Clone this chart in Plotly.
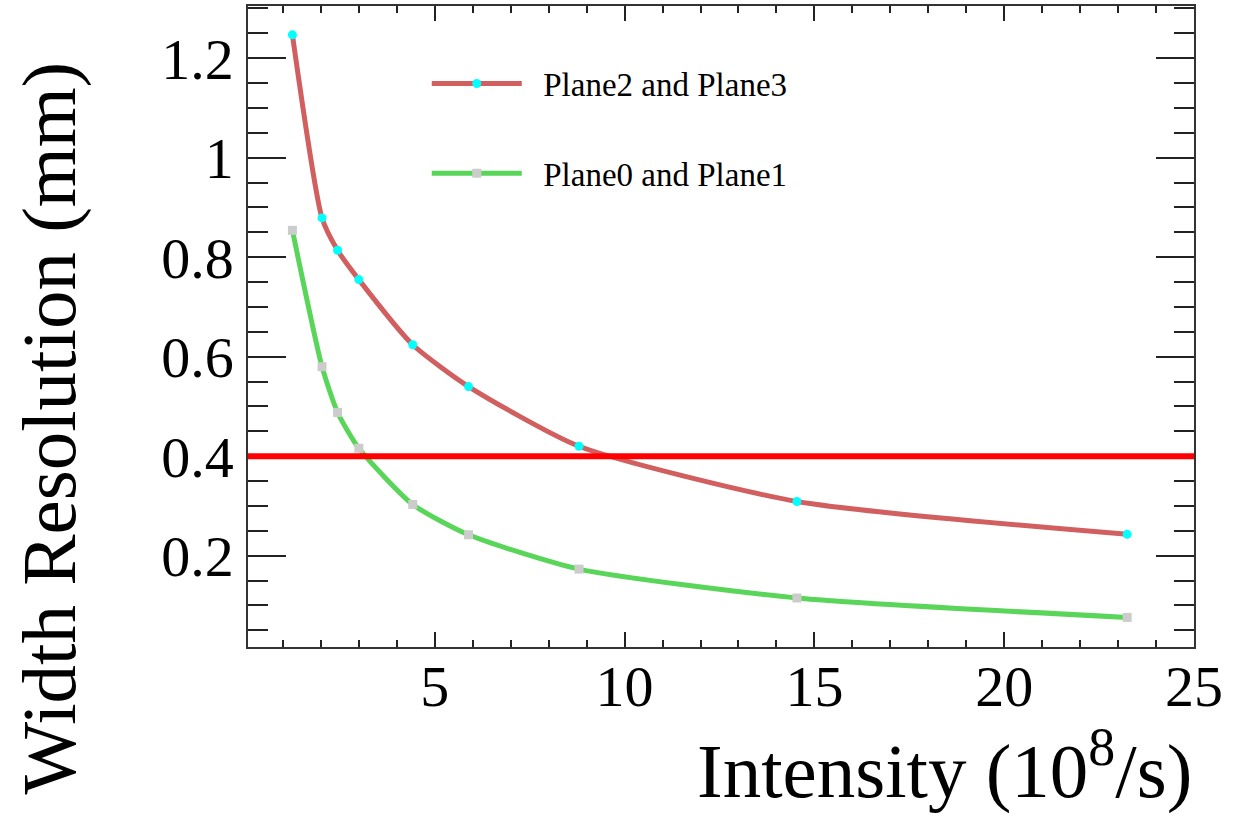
import plotly.graph_objects as go

# ---- data ----
intensity = [1.25, 2.03, 2.44, 3.0, 4.42, 5.89, 8.8, 14.54, 23.24]
res_plane23 = [1.247, 0.879, 0.814, 0.755, 0.624, 0.540, 0.420, 0.309, 0.243]
res_plane01 = [0.854, 0.580, 0.488, 0.416, 0.303, 0.242, 0.173, 0.115, 0.076]
threshold = 0.4
x_ticks = [5, 10, 15, 20, 25]
y_ticks = [0.2, 0.4, 0.6, 0.8, 1.0, 1.2]
y_ticktext = ["0.2", "0.4", "0.6", "0.8", "1", "1.2"]
names = ["Plane2 and Plane3", "Plane0 and Plane1"]

FONT = "Liberation Serif"
PAD = "\u00a0\u00a0"

fig = go.Figure()
fig.add_trace(go.Scatter(
    x=intensity, y=res_plane23, name=PAD + names[0],
    mode="lines+markers",
    line=dict(color="#d15f5f", width=5, shape="spline", smoothing=0.6),
    marker=dict(symbol="circle", color="#00ffff", size=9, line=dict(width=0)),
    legend="legend",
))
fig.add_trace(go.Scatter(
    x=intensity, y=res_plane01, name=PAD + names[1],
    mode="lines+markers",
    line=dict(color="#59d659", width=5, shape="spline", smoothing=0.6),
    marker=dict(symbol="square", color="#cccccc", size=9, line=dict(width=0)),
    legend="legend2",
))

fig.add_shape(type="line", xref="paper", x0=0, x1=1, yref="y", y0=threshold, y1=threshold,
              line=dict(color="#ff0000", width=6), layer="above")

L, R, T, B = 248.3, 40, 4.3, 175.3
W, H = 1234, 822
pw = W - L - R
ph = H - T - B

def px_x(p):
    return (p - L) / pw

def px_y(p):
    return (H - B - p) / ph

axis_common = dict(
    showgrid=False, zeroline=False,
    showline=True, linecolor="#333333", linewidth=1.5,
    mirror="allticks", ticks="inside", tickcolor="#222222", tickwidth=1.5,
    tickfont=dict(family=FONT, size=58, color="black"),
)

fig.update_layout(
    width=W, height=H,
    margin=dict(l=L, r=R, t=T, b=B),
    paper_bgcolor="white", plot_bgcolor="white",
    xaxis=dict(range=[0.08, 25.0], tickvals=x_ticks, ticklen=15,
               minor=dict(dtick=1, ticklen=7, ticks="inside", tickcolor="#222222", tickwidth=1.5),
               ticklabelstandoff=-12, **axis_common),
    yaxis=dict(range=[0.0165, 1.305], tickvals=y_ticks, ticktext=y_ticktext, ticklen=38,
               minor=dict(dtick=0.05, tick0=0, ticklen=20, ticks="inside", tickcolor="#222222", tickwidth=1.5),
               ticklabelstandoff=1, **axis_common),
    showlegend=True,
    legend=dict(x=px_x(427), y=px_y(54), xanchor="left", yanchor="top",
                bgcolor="rgba(0,0,0,0)", borderwidth=0, itemwidth=90,
                font=dict(family=FONT, size=33, color="black")),
    legend2=dict(x=px_x(427), y=px_y(144), xanchor="left", yanchor="top",
                 bgcolor="rgba(0,0,0,0)", borderwidth=0, itemwidth=90,
                 font=dict(family=FONT, size=33, color="black")),
    annotations=[
        dict(text="Intensity (10<sup>8</sup>/s)", xref="paper", yref="paper",
             x=1.0, y=px_y(765), xanchor="right", yanchor="middle", showarrow=False,
             font=dict(family=FONT, size=77, color="black")),
        dict(text="Width Resolution (mm)", xref="paper", yref="paper",
             x=px_x(49), y=px_y(427), xanchor="center", yanchor="middle", showarrow=False,
             textangle=-90, font=dict(family=FONT, size=77, color="black")),
    ],
)

fig.write_html("out.html")
